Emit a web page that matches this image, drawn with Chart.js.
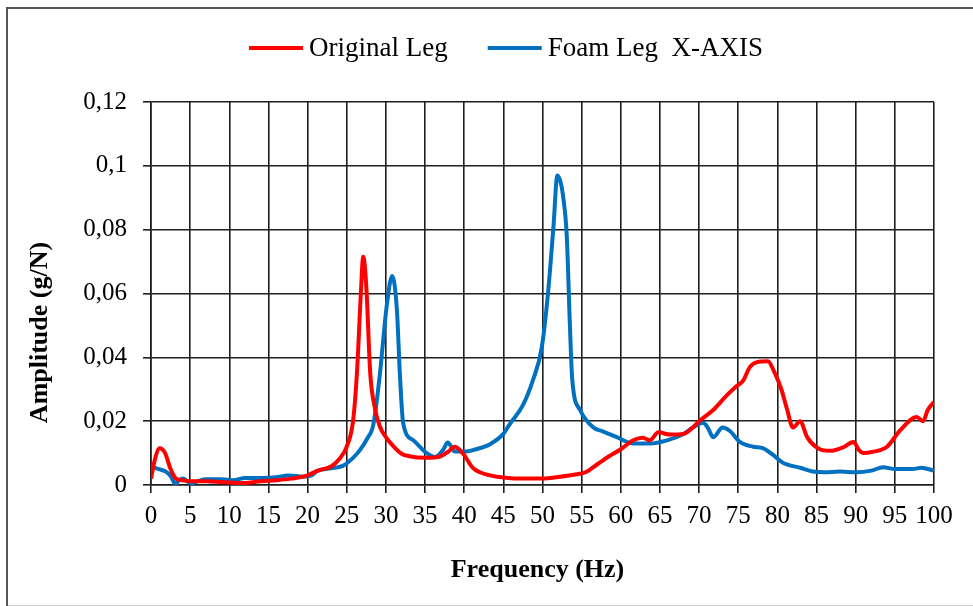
<!DOCTYPE html>
<html>
<head>
<meta charset="utf-8">
<title>Original Leg vs Foam Leg X-AXIS</title>
<script src="https://cdn.jsdelivr.net/npm/chart.js@4.4.1/dist/chart.umd.min.js"></script>
<style>
    html, body { margin: 0; padding: 0; background: #fff; overflow: hidden; }
    #wrap { width: 973px; height: 606px; position: relative; }
</style>
</head>
<body>
<div id="wrap"><canvas id="mygraph" width="973" height="606"></canvas></div>
<script>
// frequencies (Hz) and amplitudes (g/N)
let originalFreq = [0, 0.5, 1.1, 1.8, 2.5, 3.2, 4, 5, 7, 10, 12, 14, 16, 18, 20, 21, 22, 23, 24, 25,
    25.8, 26.3, 26.8, 27.1, 27.5, 28, 28.6, 29.2, 30, 31, 32, 33, 35, 37, 38, 38.8, 39.8, 41.1, 42, 43.3,
    44.5, 46, 48, 50, 52, 54, 55.5, 57, 58.5, 60, 61.6, 62.8, 63.7, 64.8, 66.3, 68, 69.2, 70, 71.8, 73.5,
    74.8, 75.6, 76.5, 77.4, 78.8, 79.5, 80.5, 81.2, 82, 82.9, 83.8, 85, 86.7, 88.4, 89.7, 90.4, 91, 92.2,
    94, 95.7, 97.8, 98.6, 99.2, 100];
let originalAmp = [0.002, 0.008, 0.0115, 0.010, 0.005, 0.002, 0.0015, 0.0012, 0.0012, 0.0008, 0.0006, 0.0012, 0.0015, 0.002, 0.003, 0.0042, 0.005, 0.0058, 0.008, 0.012,
    0.02, 0.035, 0.06, 0.0715, 0.062, 0.035, 0.024, 0.0185, 0.015, 0.012, 0.0098, 0.009, 0.0085, 0.009, 0.0105, 0.012, 0.010, 0.0054, 0.004, 0.003,
    0.0025, 0.0021, 0.002, 0.002, 0.0025, 0.0032, 0.004, 0.0065, 0.009, 0.0112, 0.014, 0.0148, 0.014, 0.0165, 0.0158, 0.016, 0.018, 0.020, 0.0235, 0.028,
    0.031, 0.0326, 0.037, 0.0385, 0.0388, 0.036, 0.030, 0.024, 0.018, 0.020, 0.015, 0.0118, 0.0107, 0.0118, 0.0135, 0.011, 0.010, 0.0104,
    0.012, 0.0172, 0.0213, 0.020, 0.0235, 0.026];

let foamFreq = [0, 1, 2, 2.6, 3.1, 3.6, 4.1, 4.6, 5.2, 6, 7, 9, 10.5, 12, 14, 16, 17.5, 19.5, 20.5, 21.3,
    23, 24.5, 25.8, 26.7, 27.6, 28.4, 29.2, 30.1, 30.8, 31.4, 31.8, 32.2, 33.5, 35.2, 36.3, 37.3, 37.9, 38.8, 40.3, 41.5,
    43.3, 45, 45.8, 47.5, 48.8, 49.9, 50.7, 51.4, 51.9, 52.3, 52.6, 53.1, 53.5, 53.8, 54.8, 56.5, 57.7, 59.5, 61.6, 63.7,
    65.9, 68, 69.2, 70.5, 71.1, 71.8, 73, 73.9, 75.2, 76.9, 78.2, 79.4, 80.7, 82.9, 84.5, 86, 88, 90, 92, 93.5,
    95, 97.3, 98.4, 100];
let foamAmp = [0.0058, 0.005, 0.004, 0.0025, 0.0003, 0.0015, 0.002, 0.0012, 0.0005, 0.0012, 0.0018, 0.0018, 0.0015, 0.0022, 0.0022, 0.0024, 0.003, 0.0026, 0.003, 0.0045,
    0.0052, 0.006, 0.0085, 0.011, 0.0145, 0.019, 0.034, 0.056, 0.0655, 0.055, 0.034, 0.0195, 0.014, 0.010, 0.0088, 0.011, 0.0133, 0.0105, 0.0105, 0.0112,
    0.0128, 0.016, 0.019, 0.025, 0.033, 0.043, 0.060, 0.081, 0.097, 0.095, 0.091, 0.078, 0.050, 0.033, 0.0235, 0.018, 0.0168, 0.015, 0.013, 0.013,
    0.014, 0.016, 0.018, 0.0195, 0.018, 0.015, 0.018, 0.017, 0.0135, 0.012, 0.0115, 0.0095, 0.007, 0.0054, 0.0042, 0.004, 0.0042, 0.004, 0.0045, 0.0056,
    0.005, 0.005, 0.0054, 0.0045];

let seriesNames = ["Original Leg", "Foam Leg  X-AXIS"];
let seriesColors = ["#ff0000", "#0070c0"];
let xTitle = "Frequency (Hz)";
let yTitle = "Amplitude (g/N)";

const serif = "'Liberation Serif', 'Times New Roman', serif";

function toPoints(xs, ys) {
    return xs.map(function(x, i) { return { x: x, y: ys[i] }; });
}

// white page + the grey frame round the whole figure
const framePlugin = {
    id: "frame",
    beforeDraw(chart) {
        let c = chart.ctx;
        c.save();
        c.fillStyle = "#fff";
        c.fillRect(0, 0, chart.width, chart.height);
        c.strokeStyle = "#cfcfcf";
        c.lineWidth = 1;
        c.beginPath();
        c.moveTo(8, 605.5);
        c.lineTo(chart.width, 605.5);
        c.stroke();
        c.strokeStyle = "#555";
        c.lineWidth = 2;
        c.beginPath();
        c.moveTo(7, chart.height);
        c.lineTo(7, 8);
        c.lineTo(chart.width, 8);
        c.stroke();
        c.restore();
    }
};

// legend and axis titles drawn by hand
const textPlugin = {
    id: "texts",
    afterDraw(chart) {
        let c = chart.ctx;
        let area = chart.chartArea;
        c.save();
        c.fillStyle = "#000";
        c.textBaseline = "middle";

        // legend
        c.font = "27px " + serif;
        let lineLen = 54, gap = 6, itemGap = 40;
        let total = 0;
        seriesNames.forEach(function(n, i) {
            total += lineLen + gap + c.measureText(n).width + (i ? 0 : itemGap);
        });
        let x = 506 - total / 2;
        let y = 48;
        seriesNames.forEach(function(n, i) {
            c.strokeStyle = seriesColors[i];
            c.lineWidth = 4;
            c.beginPath();
            c.moveTo(x, y);
            c.lineTo(x + lineLen, y);
            c.stroke();
            c.textAlign = "left";
            c.fillText(n, x + lineLen + gap, y + 1);
            x += lineLen + gap + c.measureText(n).width + itemGap;
        });

        // axis titles
        c.font = "bold 26px " + serif;
        c.textAlign = "center";
        c.fillText(xTitle, (area.left + area.right) / 2 - 5, 570);
        c.translate(40, (area.top + area.bottom) / 2 + 39);
        c.rotate(-Math.PI / 2);
        c.fillText(yTitle, 0, 0);
        c.restore();
    }
};

var ctx = document.getElementById("mygraph").getContext("2d");

var chart = new Chart(ctx, {
    type: "line",
    data: {
        datasets: [{
            label: seriesNames[0],
            data: toPoints(originalFreq, originalAmp),
            borderColor: seriesColors[0],
            backgroundColor: seriesColors[0],
            borderWidth: 4,
            pointRadius: 0,
            cubicInterpolationMode: "monotone",
        }, {
            label: seriesNames[1],
            data: toPoints(foamFreq, foamAmp),
            borderColor: seriesColors[1],
            backgroundColor: seriesColors[1],
            borderWidth: 4,
            pointRadius: 0,
            cubicInterpolationMode: "monotone",
        }],
    },
    options: {
        responsive: false,
        devicePixelRatio: 1,
        animation: false,
        layout: {
            padding: { left: 40, right: 39, top: 102, bottom: 0 },
        },
        plugins: {
            legend: { display: false },
            tooltip: { enabled: false },
        },
        scales: {
            x: {
                type: "linear",
                min: 0,
                max: 100,
                afterFit: function(scale) { scale.height = 121; },
                ticks: {
                    stepSize: 5,
                    autoSkip: false,
                    color: "#000",
                    padding: 8,
                    maxRotation: 0,
                    font: { family: serif, size: 25 },
                },
                grid: { color: "#1e1e1e", lineWidth: 1.6, tickLength: 8 },
                border: { color: "#1e1e1e", width: 1.6 },
            },
            y: {
                min: 0,
                max: 0.12,
                afterFit: function(scale) { scale.width = 111; },
                ticks: {
                    stepSize: 0.02,
                    color: "#000",
                    padding: 16,
                    font: { family: serif, size: 25 },
                    callback: function(v) { return String(Number(v.toFixed(2))).replace(".", ","); },
                },
                grid: { color: "#1e1e1e", lineWidth: 1.6, tickLength: 8 },
                border: { color: "#1e1e1e", width: 1.6 },
            },
        },
    },
    plugins: [framePlugin, textPlugin],
});
</script>
</body>
</html>
